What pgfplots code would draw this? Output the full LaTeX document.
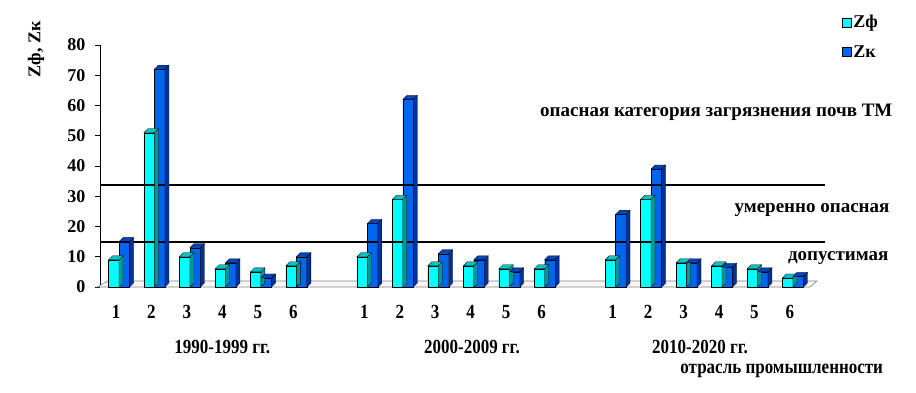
\documentclass[border=0pt]{standalone}
\usepackage{fontspec}
\setmainfont{Liberation Serif}
\newfontfamily\narrowfont[FakeStretch=0.85]{Liberation Serif}
\usepackage{pgfplots}
\pgfplotsset{compat=1.18}
\definecolor{cyF}{HTML}{00FFFF}
\definecolor{cyT}{HTML}{00C4C4}
\definecolor{cyS}{HTML}{009999}
\definecolor{blF}{HTML}{0066EE}
\definecolor{blT}{HTML}{0044BB}
\definecolor{blS}{HTML}{003399}
\pgfdeclareplotmark{nothing}{}
\pgfplotsset{
  faces/.style n args={4}{%
    scatter, only marks, mark=nothing, forget plot,
    visualization depends on={rawy \as \hval},
    scatter/@pre marker code/.code={%
      \pgfkeys{/pgf/fpu=false}%
      \pgfmathsetmacro\hh{\hval*3.025}%
      \filldraw[fill=#3, draw=black, line width=0.3pt] (#1pt,0pt) -- (#2pt,0pt) -- (#2pt+4pt,4pt) -- (#1pt+4pt,4pt) -- cycle;
      \filldraw[fill=#4, draw=black, line width=0.3pt] (#2pt,0pt) -- (#2pt+4pt,4pt) -- (#2pt+4pt,4pt-\hh pt) -- (#2pt,-\hh pt) -- cycle;
    },
    scatter/@post marker code/.code={},
  }
}
\pgfplotstableread{
x zf zk
1 9 15
2 51 72
3 10 13
4 6 8
5 5 3
6 7 10
8 10 21
9 29 62
10 7 11
11 7 9
12 6 5
13 6 9
15 9 24
16 29 39
17 8 8
18 7 6.5
19 6 5
20 3 3.5
}\datatable
\begin{document}
\begin{tikzpicture}
\useasboundingbox (0,0) rectangle (916pt,393pt);
\begin{axis}[
  at={(100pt,106pt)}, anchor=south west,
  x=35.47pt, y=3.025pt,
  xmin=0.464, xmax=20.5, ymin=0, ymax=80,
  clip=false,
  axis lines*=left,
  axis line style={-},
  x axis line style={draw=none},
  y axis line style={line width=0.8pt},
  xtick={1,2,3,4,5,6,8,9,10,11,12,13,15,16,17,18,19,20},
  xticklabels={1,2,3,4,5,6,1,2,3,4,5,6,1,2,3,4,5,6},
  x tick style={draw=none},
  xticklabel style={font=\narrowfont\fontsize{20}{22}\selectfont\bfseries, anchor=center, yshift=-20pt, xshift=-3pt},
  ytick={0,10,...,80},
  tick align=outside, major tick length=5pt,
  y tick style={line width=0.8pt, black},
  yticklabel style={font=\fontsize{18}{20}\selectfont\bfseries, xshift=-6pt},
  /pgf/number format/assume math mode=true,
  ylabel={Zф, Zк},
  ylabel style={at={(axis description cs:-0.090,1.1116)}, anchor=east, font=\fontsize{18}{20}\selectfont\bfseries},
  legend style={at={(axis description cs:1.0435,1.131)}, anchor=north west, draw=none, fill=none,
    font=\fontsize{18}{20}\selectfont\bfseries, row sep=12pt, inner sep=0pt},
  legend cell align=left,
]
% floor
\addplot[fill=gray!6, draw=gray, line width=0.6pt, forget plot] coordinates {(0.38,0) (20.48,0) (20.68,1.98) (0.69,1.98)} -- cycle;
% Zf
\addplot[ybar, bar width=10.5pt, bar shift=-5.25pt, fill=cyF, draw=black, line width=0.3pt,
  legend image code/.code={\draw[draw=black, fill=cyF, line width=0.5pt] (0pt,-4.5pt) rectangle (9pt,4.5pt);}]
  table[x=x, y=zf] {\datatable};
\addlegendentry{Zф}
\addplot[faces={-10.5}{0}{cyT}{cyS}] table[x=x, y=zf] {\datatable};
% Zk
\addplot[ybar, bar width=10.5pt, bar shift=5.25pt, fill=blF, draw=black, line width=0.3pt,
  legend image code/.code={\draw[draw=black, fill=blF, line width=0.5pt] (0pt,-4.5pt) rectangle (9pt,4.5pt);}]
  table[x=x, y=zk] {\datatable};
\addlegendentry{Zк}
\addplot[faces={0}{10.5}{blT}{blS}] table[x=x, y=zk] {\datatable};
% thresholds
\addplot[black, line width=1.8pt, forget plot] coordinates {(0.464,33.6) (20.9,33.6)};
\addplot[black, line width=1.8pt, forget plot] coordinates {(0.464,15.0) (20.9,15.0)};
% annotations
\node[anchor=east, font=\fontsize{19}{21}\selectfont\bfseries] at (axis cs:22.9,57.9) {опасная категория загрязнения почв ТМ};
\node[anchor=east, font=\fontsize{19}{21}\selectfont\bfseries] at (axis cs:22.82,25.5) {умеренно опасная};
\node[anchor=east, font=\fontsize{19}{21}\selectfont\bfseries] at (axis cs:22.79,9.6) {допустимая};
\node[font=\narrowfont\fontsize{20}{22}\selectfont\bfseries] at (axis cs:3.91,-19.8) {1990-1999 гг.};
\node[font=\narrowfont\fontsize{20}{22}\selectfont\bfseries] at (axis cs:10.95,-19.8) {2000-2009 гг.};
\node[font=\narrowfont\fontsize{20}{22}\selectfont\bfseries] at (axis cs:17.38,-19.8) {2010-2020 гг.};
\node[anchor=east, font=\narrowfont\fontsize{20}{22}\selectfont\bfseries] at (axis cs:22.64,-27.8) {отрасль промышленности};
\end{axis}
\end{tikzpicture}
\end{document}
